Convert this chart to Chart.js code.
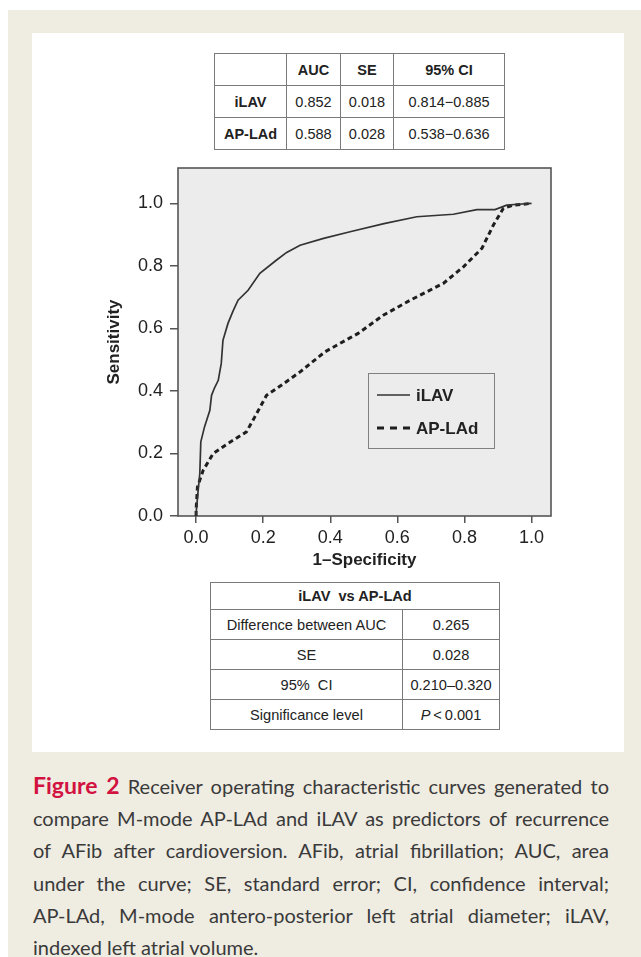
<html>

<head>
    <title>ROC iLAV vs AP-LAd</title>
    <script src="https://cdn.jsdelivr.net/npm/chart.js"></script>
    <style>
        body { margin: 0; background: #ffffff; width: 641px; height: 957px; overflow: hidden; position: relative; }
        .frame { position: absolute; left: 8px; top: 10px; right: 0; bottom: 0; background: #efece2; }
        .panel { position: absolute; left: 32px; top: 33px; width: 592px; height: 719px; background: #ffffff; }
        table { position: absolute; border-collapse: collapse; font-family: "Liberation Sans", Arial, sans-serif; color: #222; background: #fff; }
        td { border: 1px solid #7a7a7a; text-align: center; padding: 0; white-space: nowrap; }
        #tblTop { left: 214px; top: 53px; font-size: 14.5px; }
        #tblTop td { height: 32px; }
        #tblBot { left: 210px; top: 582px; font-size: 14.6px; }
        #tblBot td { height: 30px; }
        .b { font-weight: bold; }
        #chartBox { position: absolute; left: 0; top: 0; width: 641px; height: 580px; }
        .caption { position: absolute; left: 33px; top: 769px; width: 576px; font-family: Lato, "Open Sans", sans-serif; font-size: 20px; line-height: 32.2px; color: #3a3a3a; }
        .caption span { display: block; text-align: justify; text-align-last: justify; white-space: nowrap; }
        .caption span.last { text-align-last: left; }
        .caption b { color: #d2123f; font-size: 23px; }
    </style>
</head>

<body>
    <div class="frame"></div>
    <div class="panel"></div>

    <table id="tblTop">
        <tr><td style="width:71px"></td><td class="b" style="width:53px">AUC</td><td class="b" style="width:52px">SE</td><td class="b" style="width:110px">95% CI</td></tr>
        <tr><td class="b">iLAV</td><td>0.852</td><td>0.018</td><td>0.814&minus;0.885</td></tr>
        <tr><td class="b">AP-LAd</td><td>0.588</td><td>0.028</td><td>0.538&minus;0.636</td></tr>
    </table>

    <div id="chartBox"><canvas id="rocChart"></canvas></div>

    <table id="tblBot">
        <tr><td class="b" colspan="2" style="height:27px">iLAV&nbsp; vs AP-LAd</td></tr>
        <tr><td style="width:191px">Difference between AUC</td><td style="width:96px">0.265</td></tr>
        <tr><td>SE</td><td>0.028</td></tr>
        <tr><td>95%&nbsp; CI</td><td>0.210&ndash;0.320</td></tr>
        <tr><td>Significance level</td><td><i>P</i>&thinsp;&lt;&thinsp;0.001</td></tr>
    </table>

    <div class="caption">
        <span><b>Figure 2</b> Receiver operating characteristic curves generated to</span>
        <span>compare M-mode AP-LAd and iLAV as predictors of recurrence</span>
        <span>of AFib after cardioversion. AFib, atrial fibrillation; AUC, area</span>
        <span>under the curve; SE, standard error; CI, confidence interval;</span>
        <span>AP-LAd, M-mode antero-posterior left atrial diameter; iLAV,</span>
        <span class="last">indexed left atrial volume.</span>
    </div>

    <script>
        // 1 - specificity / sensitivity
        var ilavX = [0, 0.0, 0.005, 0.011, 0.014, 0.025, 0.041, 0.046, 0.055, 0.066, 0.075, 0.08, 0.095, 0.11, 0.125, 0.155, 0.19, 0.239, 0.27, 0.31, 0.38, 0.459, 0.56, 0.658, 0.767, 0.837, 0.891, 0.926, 0.96, 1.0];
        var ilavY = [0, 0.008, 0.07, 0.136, 0.237, 0.285, 0.338, 0.386, 0.41, 0.434, 0.488, 0.562, 0.616, 0.655, 0.69, 0.722, 0.776, 0.818, 0.843, 0.866, 0.888, 0.909, 0.935, 0.957, 0.965, 0.98, 0.98, 0.994, 0.997, 1.0];

        var apladX = [0, 0.0, 0.004, 0.021, 0.051, 0.095, 0.15, 0.175, 0.21, 0.254, 0.31, 0.384, 0.429, 0.483, 0.558, 0.638, 0.737, 0.797, 0.852, 0.886, 0.916, 0.946, 1.0];
        var apladY = [0, 0.02, 0.093, 0.146, 0.2, 0.232, 0.269, 0.317, 0.386, 0.418, 0.461, 0.525, 0.552, 0.584, 0.642, 0.69, 0.744, 0.797, 0.856, 0.93, 0.984, 0.994, 1.0];

        var seriesNames = ['iLAV', 'AP-LAd'];
        var xTicks = [0.0, 0.2, 0.4, 0.6, 0.8, 1.0];
        var yTicks = [0.0, 0.2, 0.4, 0.6, 0.8, 1.0];

        function toPoints(xs, ys) {
            var pts = [];
            for (let i = 0; i < xs.length; i++) {
                pts.push({ x: xs[i], y: ys[i] });
            }
            return pts;
        }

        const plotBox = {
            id: 'plotBox',
            beforeDraw(chart) {
                const a = chart.chartArea;
                const ctx = chart.ctx;
                ctx.save();
                ctx.fillStyle = '#ececec';
                ctx.fillRect(a.left, a.top, a.right - a.left, a.bottom - a.top);
                ctx.restore();
            },
            beforeDatasetsDraw(chart) {
                const a = chart.chartArea;
                const ctx = chart.ctx;
                ctx.save();
                ctx.strokeStyle = '#555';
                ctx.lineWidth = 1.6;
                ctx.strokeRect(a.left, a.top, a.right - a.left, a.bottom - a.top);
                ctx.restore();
            },
            afterDatasetsDraw(chart) {
                // legend box inside the plot
                const a = chart.chartArea;
                const ctx = chart.ctx;
                const lx = a.left + 190, ly = a.top + 205;
                ctx.save();
                ctx.fillStyle = '#ececec';
                ctx.fillRect(lx, ly, 126, 75);
                ctx.strokeStyle = '#808080';
                ctx.lineWidth = 1;
                ctx.strokeRect(lx + 0.5, ly + 0.5, 126, 75);
                ctx.font = 'bold 17px "Liberation Sans", Arial, sans-serif';
                ctx.textBaseline = 'middle';
                ctx.fillStyle = '#222';
                chart.data.datasets.forEach(function (ds, i) {
                    const yy = ly + 22 + i * 33;
                    ctx.strokeStyle = ds.borderColor;
                    ctx.lineWidth = ds.borderWidth;
                    ctx.setLineDash(ds.borderDash ? [7, 6] : []);
                    ctx.beginPath();
                    ctx.moveTo(lx + 9, yy);
                    ctx.lineTo(lx + 42, yy);
                    ctx.stroke();
                    ctx.setLineDash([]);
                    ctx.fillText(ds.label, lx + 48, yy + 1);
                });
                ctx.restore();
            }
        };

        var rocData = {
            datasets: [
                {
                    label: seriesNames[0],
                    data: toPoints(ilavX, ilavY),
                    borderColor: '#333',
                    borderWidth: 1.7,
                    pointRadius: 0,
                    tension: 0,
                    fill: false
                },
                {
                    label: seriesNames[1],
                    data: toPoints(apladX, apladY),
                    borderColor: '#1e1e1e',
                    borderWidth: 3,
                    borderDash: [5, 3.5],
                    pointRadius: 0,
                    tension: 0,
                    fill: false
                }
            ]
        };

        const tickFont = { family: '"Liberation Sans", Arial, sans-serif', size: 18 };
        const titleFont = { family: '"Liberation Sans", Arial, sans-serif', size: 17, weight: 'bold' };

        const rocConfig = {
            type: 'line',
            data: rocData,
            plugins: [plotBox],
            options: {
                responsive: true,
                maintainAspectRatio: false,
                animation: false,
                layout: { padding: { left: 104, right: 90, top: 168, bottom: 4 } },
                plugins: { legend: { display: false }, tooltip: { enabled: false } },
                scales: {
                    x: {
                        type: 'linear',
                        min: -0.054,
                        max: 1.058,
                        afterBuildTicks: s => { s.ticks = xTicks.map(v => ({ value: v })); },
                        afterFit: s => { s.height = 60; },
                        ticks: { font: tickFont, color: '#222', padding: 4, maxRotation: 0, callback: v => v.toFixed(1) },
                        grid: { drawOnChartArea: false, drawTicks: true, tickLength: 7, color: '#555', lineWidth: 1.5 },
                        border: { display: false },
                        title: { display: true, text: '1\u2013Specificity', font: titleFont, color: '#222', padding: { top: 0, bottom: 5 } }
                    },
                    y: {
                        type: 'linear',
                        min: 0,
                        max: 1.113,
                        afterBuildTicks: s => { s.ticks = yTicks.map(v => ({ value: v })); },
                        afterFit: s => { s.width = 74; },
                        ticks: { font: tickFont, color: '#222', padding: 7, callback: v => v.toFixed(1) },
                        grid: { drawOnChartArea: false, drawTicks: true, tickLength: 8, color: '#555', lineWidth: 1.5 },
                        border: { display: false },
                        title: { display: true, text: 'Sensitivity', font: titleFont, color: '#222', padding: 0 }
                    }
                }
            }
        };

        var rocCtx = document.getElementById("rocChart").getContext("2d");
        var rocChart = new Chart(rocCtx, rocConfig);
    </script>
</body>

</html>
